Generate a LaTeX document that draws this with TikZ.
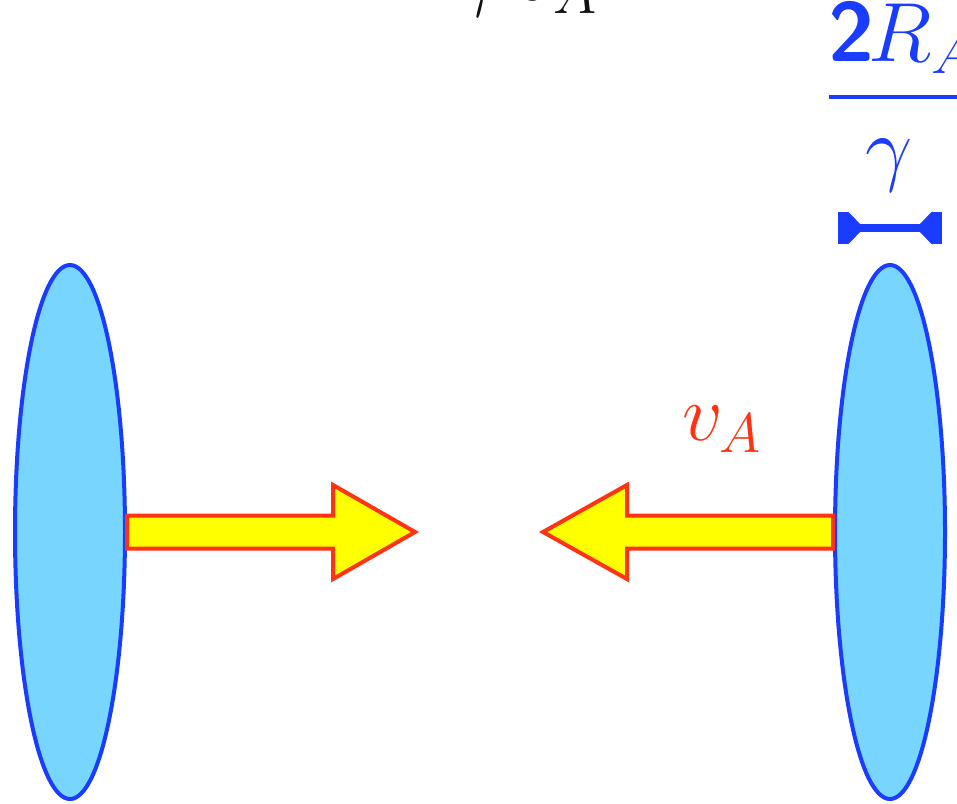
\RequirePackage{fix-cm}
\documentclass[tikz,border=0pt]{standalone}
\usepackage{amsmath,amssymb}
\usepackage{tikz}
\usetikzlibrary{arrows.meta,positioning,shapes.geometric,calc}
\definecolor{nucblue}{HTML}{1A3CFF}
\definecolor{nucfill}{HTML}{78D5FD}
\definecolor{arred}{HTML}{FF3311}
\definecolor{aryel}{HTML}{FFFF00}
\definecolor{lblink}{HTML}{111111}
\tikzset{
  nucleus/.style={ellipse,draw=nucblue,line width=2pt,fill=nucfill,
                  minimum width=55pt,minimum height=267pt,inner sep=0pt},
  fatarrow/.style={draw=arred,line width=2pt,fill=aryel,line join=miter},
  widthbar/.style={draw=nucblue,line width=4pt,
    {Bar[width=16pt,line width=5pt]Triangle[reversed,length=8pt,width=16pt]}-{Triangle[reversed,length=8pt,width=16pt]Bar[width=16pt,line width=5pt]}},
  vlab/.style={text=arred,font=\fontsize{40}{48}\selectfont,inner sep=0pt},
  flab/.style={text=nucblue,font=\fontsize{42}{50}\selectfont,inner sep=0pt},
  tlab/.style={text=lblink,font=\fontsize{42}{50}\selectfont,inner sep=0pt},
}

\begin{document}
\begin{tikzpicture}[x=0.5pt,y=-0.5pt]
  \path[use as bounding box] (0,0) rectangle (957,803);
  \clip (0,0) rectangle (957,803);
  % the two flattened nuclei
  \node[nucleus] (lnuc) at (70,532) {};
  \node[nucleus] (rnuc) at (890,532) {};
  % velocity arrows
  \draw[fatarrow] ($(lnuc.east)+(0,-16.5)$) -- (333,515.5) -- (333,485) -- (415,532)
    -- (333,579) -- (333,548.5) -- ($(lnuc.east)+(0,16.5)$) -- cycle;
  \draw[fatarrow] ($(rnuc.west)+(0,-16.5)$) -- (627,515.5) -- (627,485) -- (543,532)
    -- (627,579) -- (627,548.5) -- ($(rnuc.west)+(0,16.5)$) -- cycle;
  \node[vlab,anchor=base] (vel) at (722,440) {$v_A$};
  % contracted thickness
  \coordinate (tl) at (838,228);
  \coordinate (tr) at (942,228);
  \draw[widthbar] (tl) -- (tr);
  \node[flab,anchor=base] (thick) at (902,118) {$\dfrac{\textsf{\bfseries 2}\kern-3pt R_A}{\gamma\kern13pt}$};
  \node[tlab,anchor=base west] (ttop) at (452,1) {$\gamma\,v_A$};
\end{tikzpicture}
\end{document}
